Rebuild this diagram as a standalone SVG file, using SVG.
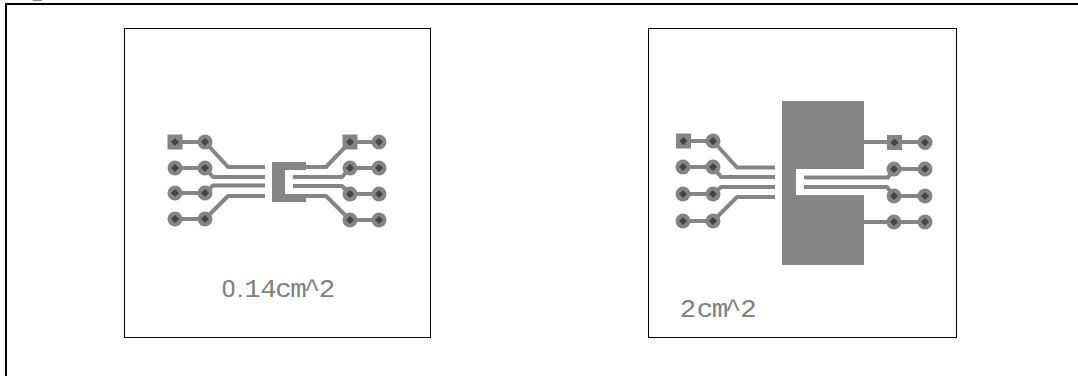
<svg xmlns="http://www.w3.org/2000/svg" width="1078" height="376" viewBox="0 0 1078 376">
<style>
.t{fill:none;stroke:#858585;stroke-width:4;stroke-linejoin:round}
.p{fill:#858585;stroke:none}
.h{fill:#444;stroke:none}
.b{fill:#fff;stroke:#000;stroke-width:1}
.l{font-family:"Liberation Mono",monospace;font-size:25px;fill:#808080;text-anchor:middle}
.z{font-family:Roboto,"Liberation Sans",sans-serif;font-weight:400;font-size:23px}
</style>
<defs>
<g id="pad"><circle r="7.5" class="p"/><path d="M0-4 4 0 0 4-4 0Z" class="h"/></g>
<g id="sq"><rect x="-7.500" y="-7.500" width="15" height="15" class="p"/><path d="M0-4 4 0 0 4-4 0Z" class="h"/></g>
</defs>
<rect id="frame-bg" width="1078" height="376" fill="#fff"/>
<rect id="top-mark" x="33" y="0" width="9" height="1" fill="#888"/>
<path id="frame" d="M6 376V4H1078" fill="none" stroke="#000" stroke-width="2"/>
<g id="panel-left">
<rect x="124.500" y="28.500" width="306" height="309" class="b"/>
<g id="traces-left">
<path class="t" d="M175 142H205L228 167H265M175 168H205L213 177H265M175 193H205L213 185.500H265M175 219H205L228 196H265"/>
<path class="t" d="M306 167H326L350 142H379M293 177H342L350 168H379M293 186H342L350 194H379M306 196H326L350 220H379"/>
</g>
<path class="p" d="M272 162H306V170H285V194H306V202H272Z"/>
<use href="#sq" x="175" y="142"/><use href="#pad" x="205" y="142"/>
<use href="#pad" x="175" y="168"/><use href="#pad" x="205" y="168"/>
<use href="#pad" x="175" y="193"/><use href="#pad" x="205" y="193"/>
<use href="#pad" x="175" y="219"/><use href="#pad" x="205" y="219"/>
<use href="#sq" x="350" y="142"/><use href="#pad" x="379" y="142"/>
<use href="#pad" x="350" y="168"/><use href="#pad" x="379" y="168"/>
<use href="#pad" x="350" y="194"/><use href="#pad" x="379" y="194"/>
<use href="#pad" x="350" y="220"/><use href="#pad" x="379" y="220"/>
<text class="l" transform="translate(0 297) scale(1.1 1)" x="207.900 218.600 229.500 244.100 257.700 271.400 283.600 297.300" y="0"><tspan class="z">0.</tspan>14cm^2</text>
</g>
<g id="panel-right">
<rect x="648.500" y="28.500" width="308" height="309" class="b"/>
<g id="traces-right">
<path class="t" d="M683 141H713L737 167.500H775M683 167H713L721 177H775M683 194H713L721 187H775M683 221H713L737 197H775"/>
<path class="t" d="M804 177.500H888L894 169H925M804 187H887L894 196H925M863 142H925M863 222H925"/>
</g>
<path class="p" d="M782 101H864V169H796V195H864V265H782Z"/>
<use href="#sq" x="683.500" y="141"/><use href="#pad" x="713" y="141"/>
<use href="#pad" x="683" y="167"/><use href="#pad" x="713" y="167"/>
<use href="#pad" x="683" y="194"/><use href="#pad" x="713" y="194"/>
<use href="#pad" x="683" y="221"/><use href="#pad" x="713" y="221"/>
<use href="#sq" x="894.500" y="142.500"/><use href="#pad" x="925" y="142.500"/>
<use href="#pad" x="894" y="169"/><use href="#pad" x="925" y="169"/>
<use href="#pad" x="894" y="196"/><use href="#pad" x="925" y="196"/>
<use href="#pad" x="894" y="222"/><use href="#pad" x="925" y="222"/>
<text class="l" transform="translate(0 317) scale(1.1 1)" x="625.500 640.900 654.500 666.400 680.500" y="0">2cm^2</text>
</g>
</svg>
